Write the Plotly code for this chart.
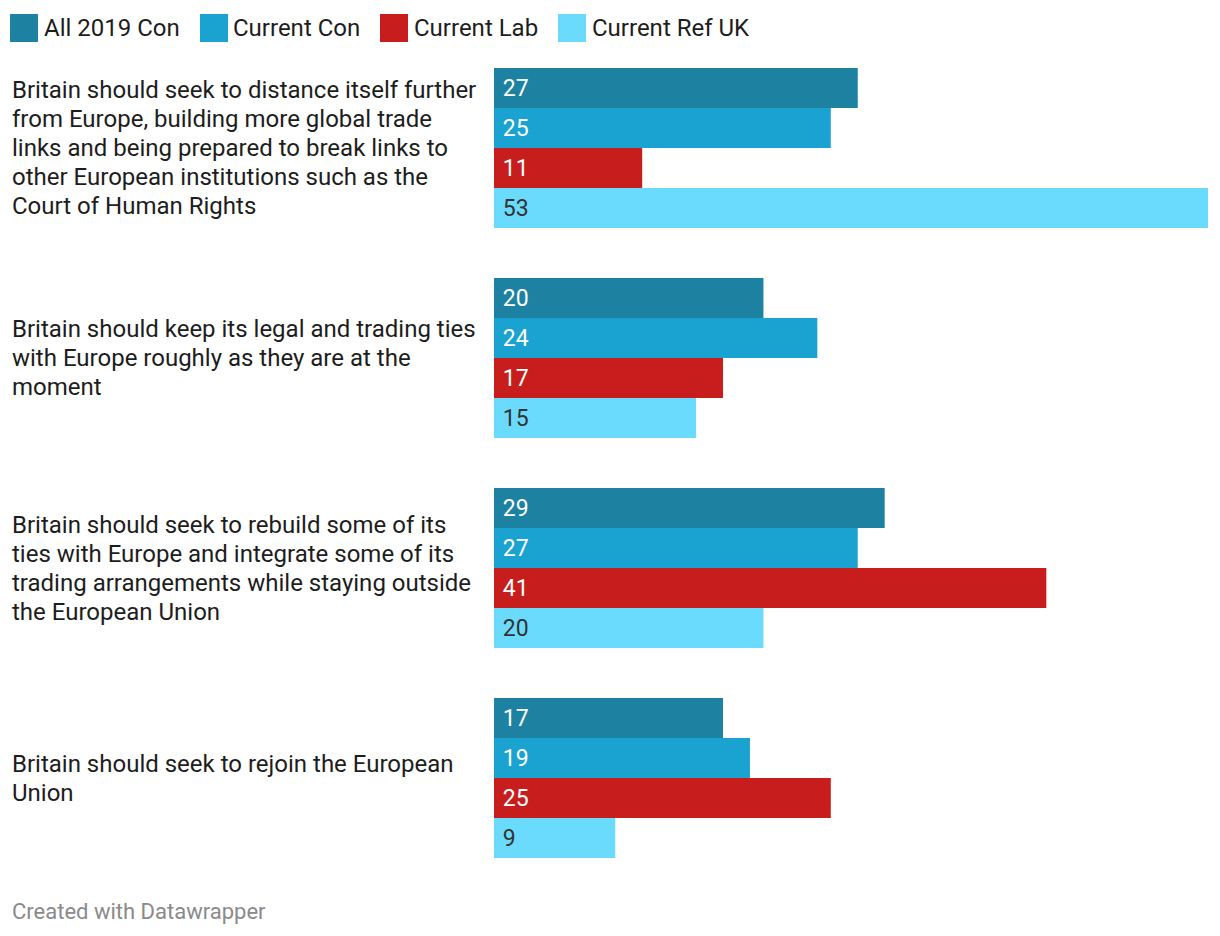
import plotly.graph_objects as go

categories = [
    "Britain should seek to distance itself further<br>from Europe, building more global trade<br>links and being prepared to break links to<br>other European institutions such as the<br>Court of Human Rights",
    "Britain should keep its legal and trading ties<br>with Europe roughly as they are at the<br>moment",
    "Britain should seek to rebuild some of its<br>ties with Europe and integrate some of its<br>trading arrangements while staying outside<br>the European Union",
    "Britain should seek to rejoin the European<br>Union",
]
series_names = ["All 2019 Con", "Current Con", "Current Lab", "Current Ref UK"]
all_2019_con = [27, 20, 29, 17]
current_con = [25, 24, 27, 19]
current_lab = [11, 17, 41, 25]
current_ref_uk = [53, 15, 20, 9]
series_values = [all_2019_con, current_con, current_lab, current_ref_uk]
colors = ["#1d81a2", "#1aa3d1", "#c71e1d", "#6bdbfd"]
text_colors = ["#ffffff", "#ffffff", "#ffffff", "#333333"]

FONT = "Roboto"
OFF = 8  # page body margin
W, H = 1220 - OFF, 936 - OFF
L, R, T, B = 494 - OFF, 12, 43 - OFF, 53
LINE_H = 29

fig = go.Figure()
for name, vals, col, tcol in zip(series_names, series_values, colors, text_colors):
    fig.add_trace(go.Bar(
        y=categories, x=vals, name=name, orientation="h",
        marker=dict(color=col, line=dict(width=0)),
        text=["\u00a0" + str(v) for v in vals],
        textposition="inside", insidetextanchor="start",
        textfont=dict(family=FONT, size=23, color=tcol),
        constraintext="none", showlegend=False, hoverinfo="x+name",
    ))

pw = W - L - R
ph = H - T - B
def py(p):
    # page pixel y -> paper
    return 1 - (p - OFF - T) / ph
def pxx(p):
    # page pixel x -> paper
    return (p - OFF - L) / pw

# category labels, left aligned, one annotation per line for tight leading
for c in categories:
    lines = c.split("<br>")
    n = len(lines)
    for i, line in enumerate(lines):
        fig.add_annotation(x=pxx(10), xref="paper", y=c, yref="y",
                           yshift=((n - 1) / 2 - i) * LINE_H,
                           text=line, showarrow=False, xanchor="left", yanchor="middle",
                           align="left", font=dict(family=FONT, size=24, color="#1d1d1d"))

# legend (manual)
leg_x = [10, 200, 380, 558]
leg_tx = [45, 234, 415, 593]
for lx, tx, name, col in zip(leg_x, leg_tx, series_names, colors):
    fig.add_shape(type="rect", xref="paper", yref="paper",
                  x0=pxx(lx), x1=pxx(lx + 28), y0=py(42), y1=py(14),
                  fillcolor=col, line=dict(width=0))
    fig.add_annotation(x=pxx(tx - 3), xref="paper", y=py(28), yref="paper",
                       text=name, showarrow=False, xanchor="left", yanchor="middle",
                       font=dict(family=FONT, size=24, color="#1d1d1d"))

fig.add_annotation(x=pxx(10), xref="paper", y=py(911), yref="paper",
                   text="Created with Datawrapper", showarrow=False,
                   xanchor="left", yanchor="middle",
                   font=dict(family=FONT, size=22, color="#8a8a8a"))

fig.update_layout(
    width=W, height=H, margin=dict(l=L, r=R, t=T, b=B),
    paper_bgcolor="white", plot_bgcolor="white",
    barmode="group", bargap=50 / 210, bargroupgap=0,
    xaxis=dict(range=[0, 53], visible=False, fixedrange=True),
    yaxis=dict(autorange="reversed", showticklabels=False, showgrid=False,
               zeroline=False, fixedrange=True),
)
fig.write_html("out.html")
